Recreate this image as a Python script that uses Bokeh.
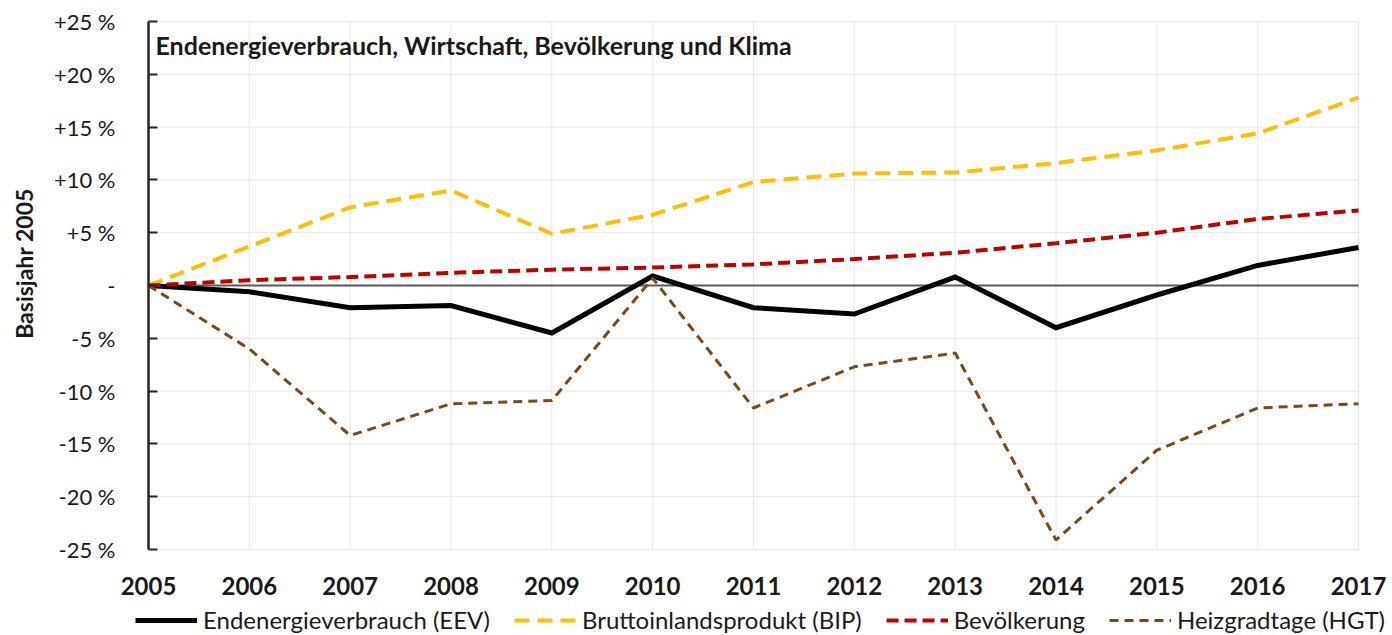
import math
from bokeh.plotting import figure
from bokeh.models import (Range1d, FixedTicker, Label, Legend, LegendItem, LinearAxis)
from bokeh.embed import file_html
from bokeh.resources import INLINE

years = list(range(2005, 2018))
eev = [0.0, -0.6, -2.1, -1.9, -4.5, 0.9, -2.1, -2.7, 0.8, -4.0, -0.9, 1.9, 3.6]
bip = [0.0, 3.7, 7.4, 9.0, 4.9, 6.7, 9.8, 10.6, 10.7, 11.6, 12.8, 14.4, 17.8]
bev = [0.0, 0.5, 0.8, 1.2, 1.5, 1.7, 2.0, 2.5, 3.1, 4.0, 5.0, 6.3, 7.1]
hgt = [0.0, -6.0, -14.2, -11.2, -10.9, 0.7, -11.6, -7.7, -6.4, -24.1, -15.6, -11.6, -11.2]

y_ticks = [-25, -20, -15, -10, -5, 0, 5, 10, 15, 20, 25]
y_tick_labels = ["-25 %", "-20 %", "-15 %", "-10 %", "-5 %", "-",
                 "+5 %", "+10 %", "+15 %", "+20 %", "+25 %"]

series_names = ["Endenergieverbrauch (EEV)", "Bruttoinlandsprodukt (BIP)",
                "Bevölkerung", "Heizgradtage (HGT)"]
title_text = "Endenergieverbrauch, Wirtschaft, Bevölkerung und Klima"
y_label = "Basisjahr 2005"

FONT = "Lato"
TXT = "#1a1a1a"

styles = [
    dict(line_color="black", line_width=5, line_join="miter"),
    dict(line_color="#FFC000", line_width=4, line_dash="15 8"),
    dict(line_color="#C00000", line_width=4, line_dash="12 6"),
    dict(line_color="#7A4A1C", line_width=3, line_dash="9 6"),
]

# The frame covers the whole canvas so that the legend below the plot is not clipped;
# the plot area (2005..2017, -25..+25) sits at px 148..1358 x 21..549.
W, H = 1392, 635
PX_L, PX_R, PX_T, PX_B = 148, 1358, 21, 549
x0, x1 = years[0], years[-1]
y0, y1 = y_ticks[0], y_ticks[-1]
sx = (PX_R - PX_L) / (x1 - x0)
sy = (PX_B - PX_T) / (y1 - y0)
xr = Range1d(x0 - PX_L / sx, x1 + (W - PX_R) / sx)
yr = Range1d(y0 - (H - PX_B) / sy, y1 + PX_T / sy)


def data_x(px):
    return x0 + (px - PX_L) / sx


def data_y(py):
    return y0 + (PX_B - py) / sy


p = figure(width=W, height=H, output_backend="svg", toolbar_location=None,
           x_range=xr, y_range=yr, x_axis_type=None, y_axis_type=None,
           min_border_left=0, min_border_right=0, min_border_top=0,
           min_border_bottom=0)
p.outline_line_color = None
p.background_fill_color = "white"
p.xgrid.visible = False
p.ygrid.visible = False

# gridlines restricted to the plot area
grid_color = "#E6E6E6"
p.segment(x0=years, y0=[y0] * len(years), x1=years, y1=[y1] * len(years),
          line_color=grid_color, line_width=1, level="underlay")
p.segment(x0=[x0] * len(y_ticks), y0=y_ticks, x1=[x1] * len(y_ticks), y1=y_ticks,
          line_color=grid_color, line_width=1, level="underlay")
# zero line (category axis)
p.segment(x0=[x0], y0=[0], x1=[x1], y1=[0], line_color="#595959", line_width=2,
          level="underlay")

# x axis (labels only) at -25
xax = LinearAxis(fixed_location=y0, bounds=(x0, x1), ticker=FixedTicker(ticks=years))
xax.axis_line_color = None
xax.major_tick_line_color = None
xax.minor_tick_line_color = None
xax.major_label_standoff = 21
xax.major_label_text_font = FONT
xax.major_label_text_font_style = "bold"
xax.major_label_text_font_size = "24px"
xax.major_label_text_color = TXT
p.add_layout(xax, "below")

# y axis at 2005
yax = LinearAxis(fixed_location=x0, bounds=(y0, y1), ticker=FixedTicker(ticks=y_ticks))
yax.major_label_overrides = {t: l for t, l in zip(y_ticks, y_tick_labels)}
yax.axis_line_color = "#262626"
yax.axis_line_width = 2.5
yax.major_tick_line_color = "#262626"
yax.major_tick_line_width = 2
yax.major_tick_in = 9
yax.major_tick_out = 0
yax.minor_tick_line_color = None
yax.major_label_standoff = 33
yax.major_label_text_font = FONT
yax.major_label_text_font_size = "22px"
yax.major_label_text_color = TXT
p.add_layout(yax, "left")

# y axis title (placed like the original, a bit above the centre)
p.add_layout(Label(x=data_x(23), y=data_y(263), text=y_label, angle=math.pi / 2,
                   text_font=FONT, text_font_style="bold", text_font_size="23px",
                   text_align="center", text_baseline="middle", text_color=TXT))

renderers = [p.line(years, vals, **st) for vals, st in zip([eev, bip, bev, hgt], styles)]

p.add_layout(Label(x=data_x(155), y=data_y(44), text=title_text, text_font=FONT,
                   text_font_style="bold", text_font_size="25px",
                   text_baseline="middle", text_color=TXT))

legend = Legend(items=[LegendItem(label=n, renderers=[r]) for n, r in
                       zip(series_names, renderers)],
                orientation="horizontal", location=(135, 1))
legend.border_line_color = None
legend.background_fill_alpha = 0
legend.padding = 0
legend.margin = 0
legend.spacing = 24
legend.glyph_width = 62
legend.glyph_height = 20
legend.label_standoff = 6
legend.label_text_font = FONT
legend.label_text_font_size = "24px"
legend.label_text_color = TXT
p.add_layout(legend, "center")

open("out.html", "w").write(file_html(p, INLINE))
